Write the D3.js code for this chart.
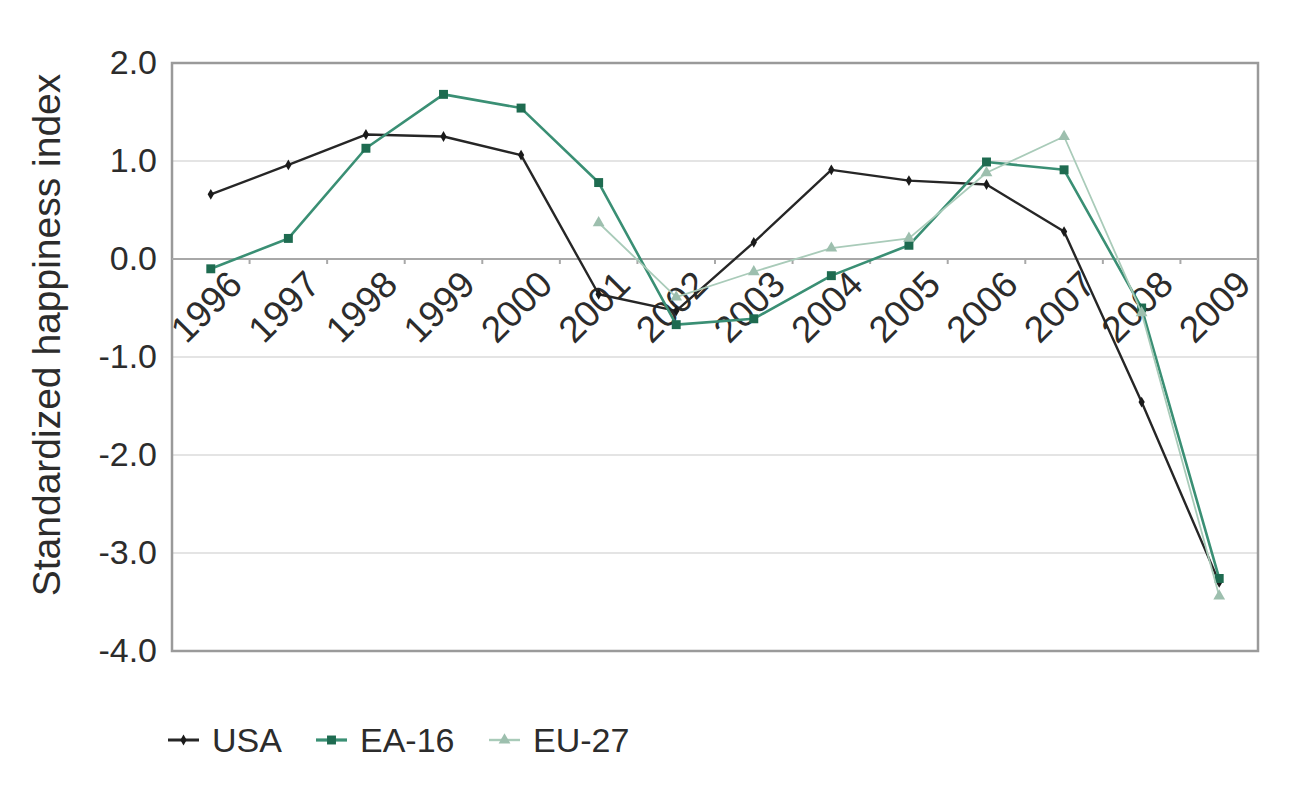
<!DOCTYPE html>
<html>
<head>
<meta charset="utf-8">
<script src="https://cdn.jsdelivr.net/npm/d3@7"></script>
<style>
  body { margin: 0; background: #fff; }
  text { font-family: "Liberation Sans", Arial, sans-serif; fill: #2c2c2c; }
</style>
</head>
<body>
<div id="container"></div>
<script>
const years = ["1996", "1997", "1998", "1999", "2000", "2001", "2002", "2003", "2004", "2005", "2006", "2007", "2008", "2009"]
const usa = [0.66, 0.96, 1.27, 1.25, 1.06, -0.36, -0.53, 0.17, 0.91, 0.80, 0.76, 0.28, -1.46, -3.30]
const ea16 = [-0.10, 0.21, 1.13, 1.68, 1.54, 0.78, -0.67, -0.61, -0.17, 0.14, 0.99, 0.91, -0.50, -3.26]
const eu27 = [null, null, null, null, null, 0.37, -0.39, -0.13, 0.11, 0.21, 0.88, 1.25, -0.55, -3.44]
const yTicks = [2, 1, 0, -1, -2, -3, -4]

const w = 1304
const h = 807
const margin = { top: 63, right: 46, bottom: 156, left: 172 }

const series = [
    { name: "USA", values: usa, color: "#262626", marker: "#1a1a1a", width: 2.4, shape: d3.symbolDiamond, size: 34 },
    { name: "EA-16", values: ea16, color: "#3a8f74", marker: "#1e6b50", width: 2.6, shape: d3.symbolSquare, size: 80 },
    { name: "EU-27", values: eu27, color: "#a9cbb9", marker: "#9dbfae", width: 1.8, shape: d3.symbolTriangle, size: 60 }
]

const xScale = d3.scalePoint()
    .domain(years)
    .range([margin.left, w - margin.right])
    .padding(0.5)
const xBand = d3.scaleBand()
    .domain(years)
    .range([margin.left, w - margin.right])
const yScale = d3.scaleLinear()
    .domain([-4, 2])
    .range([h - margin.bottom, margin.top])

const svg = d3.select("#container")
    .append("svg")
    .attr("width", w)
    .attr("height", h)

// gridlines
svg.append("g")
    .selectAll("line")
    .data(yTicks.filter(t => t !== 0 && t !== 2 && t !== -4))
    .enter()
    .append("line")
    .attr("x1", margin.left)
    .attr("x2", w - margin.right)
    .attr("y1", d => yScale(d))
    .attr("y2", d => yScale(d))
    .attr("stroke", "#e4e4e4")
    .attr("stroke-width", 2)

// frame
svg.append("rect")
    .attr("x", margin.left)
    .attr("y", margin.top)
    .attr("width", w - margin.left - margin.right)
    .attr("height", h - margin.top - margin.bottom)
    .attr("fill", "none")
    .attr("stroke", "#9a9a9a")
    .attr("stroke-width", 2.5)

// y axis labels (hyphen as minus, like the original)
const yAxis = d3.axisLeft(yScale)
    .tickValues(yTicks)
    .tickFormat(d => d.toFixed(1))
    .tickSize(0)
    .tickPadding(15)
svg.append("g")
    .attr("transform", `translate(${margin.left}, 0)`)
    .call(yAxis)
    .call(g => g.select(".domain").remove())
    .selectAll("text")
    .attr("font-size", 34)
    .attr("fill", "#2c2c2c")
    .attr("font-family", "Liberation Sans, Arial, sans-serif")

// zero axis with category ticks
const zeroY = yScale(0)
svg.append("line")
    .attr("x1", margin.left)
    .attr("x2", w - margin.right)
    .attr("y1", zeroY)
    .attr("y2", zeroY)
    .attr("stroke", "#a8a8a8")
    .attr("stroke-width", 2)
svg.append("g")
    .selectAll("line")
    .data(years.slice(1))
    .enter()
    .append("line")
    .attr("x1", d => xBand(d))
    .attr("x2", d => xBand(d))
    .attr("y1", zeroY)
    .attr("y2", zeroY + 5)
    .attr("stroke", "#a8a8a8")
    .attr("stroke-width", 2)

// x labels rotated
svg.append("g")
    .selectAll("text")
    .data(years)
    .enter()
    .append("text")
    .attr("transform", d => `translate(${xScale(d) + 15}, ${zeroY + 9}) rotate(-45)`)
    .attr("text-anchor", "end")
    .attr("dy", "0.71em")
    .attr("font-size", 37)
    .text(d => d)

// y title
svg.append("text")
    .attr("transform", `translate(60, 335) rotate(-90)`)
    .attr("text-anchor", "middle")
    .attr("font-size", 39)
    .text("Standardized happiness index")

// lines
series.forEach(s => {
    const pts = years.map((y, i) => ({ year: y, value: s.values[i] }))
    const line = d3.line()
        .defined(d => d.value !== null)
        .x(d => xScale(d.year))
        .y(d => yScale(d.value))
    svg.append("path")
        .datum(pts)
        .attr("d", line)
        .attr("fill", "none")
        .attr("stroke", s.color)
        .attr("stroke-width", s.width)
        .attr("stroke-linejoin", "round")
    svg.append("g")
        .selectAll("path")
        .data(pts.filter(d => d.value !== null))
        .enter()
        .append("path")
        .attr("d", d3.symbol().type(s.shape).size(s.size))
        .attr("transform", d => `translate(${xScale(d.year)}, ${yScale(d.value)})`)
        .attr("fill", s.marker)
})

// legend
const legendX = [168, 316, 489]
const legend = svg.append("g")
series.forEach((s, i) => {
    const g = legend.append("g").attr("transform", `translate(${legendX[i]}, 740)`)
    g.append("line")
        .attr("x1", 0).attr("x2", 31)
        .attr("stroke", s.color)
        .attr("stroke-width", s.width + 0.6)
    g.append("path")
        .attr("d", d3.symbol().type(s.shape).size(s.size))
        .attr("transform", "translate(15.5, 0)")
        .attr("fill", s.marker)
    g.append("text")
        .attr("x", 44)
        .attr("dy", "0.36em")
        .attr("font-size", 34)
        .text(s.name)
})
</script>
</body>
</html>
